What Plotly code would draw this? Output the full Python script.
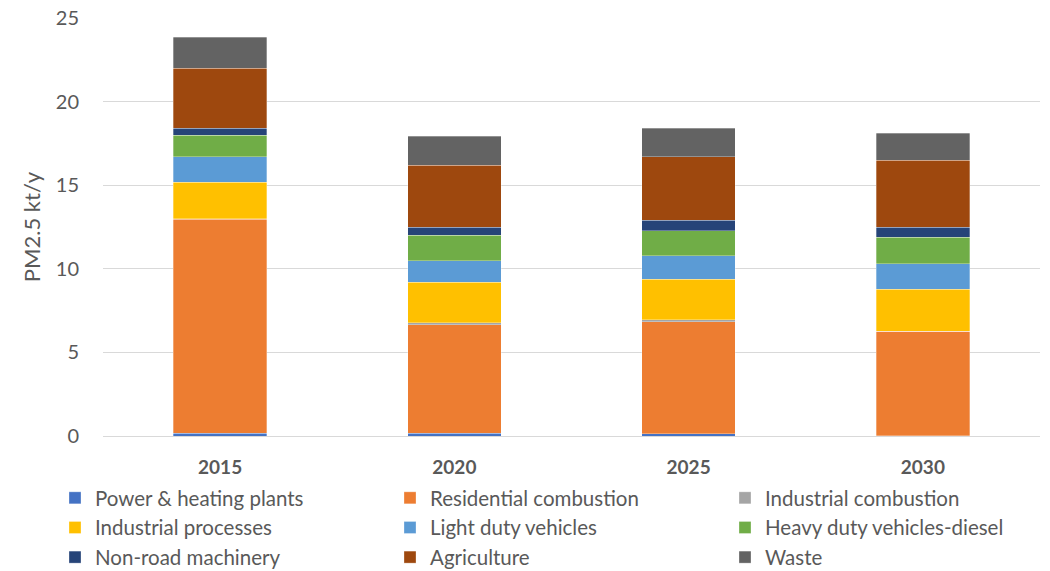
import plotly.graph_objects as go

years = ["2015", "2020", "2025", "2030"]
series_names = ["Power & heating plants", "Residential combustion", "Industrial combustion",
                "Industrial processes", "Light duty vehicles", "Heavy duty vehicles-diesel",
                "Non-road machinery", "Agriculture", "Waste"]
power = [0.16, 0.16, 0.14, 0.03]
residential = [12.80, 6.50, 6.70, 6.23]
ind_comb = [0.02, 0.10, 0.10, 0.02]
ind_proc = [2.21, 2.43, 2.43, 2.51]
ldv = [1.51, 1.30, 1.41, 1.50]
hdv = [1.30, 1.51, 1.50, 1.61]
nrm = [0.40, 0.48, 0.62, 0.60]
agri = [3.60, 3.72, 3.80, 4.00]
waste = [1.85, 1.74, 1.70, 1.60]
colors = ["#4472C4", "#ED7D31", "#A5A5A5", "#FFC000", "#5B9BD5", "#70AD47",
          "#264478", "#9E480E", "#636363"]

values = [power, residential, ind_comb, ind_proc, ldv, hdv, nrm, agri, waste]

FONT = "Lato"
GREY = "#595959"

W, H = 1050, 571
L, R, T, B = 103, 10, 18, 135
PW, PH = W - L - R, H - T - B

fig = go.Figure()
for name, vals, col in zip(series_names, values, colors):
    fig.add_trace(go.Bar(x=years, y=vals, name=name,
                         marker=dict(color=col, line=dict(width=0.6, color="rgba(255,255,255,0.5)"))))

fig.update_layout(
    barmode="stack",
    bargap=0.6,
    width=W, height=H,
    margin=dict(l=L, r=R, t=T, b=B, autoexpand=False),
    plot_bgcolor="white", paper_bgcolor="white",
    font=dict(family=FONT, color=GREY),
    xaxis=dict(tickfont=dict(size=19, family=FONT, color=GREY, weight="bold"),
               showgrid=False, showline=True, linecolor="#D9D9D9", linewidth=1,
               ticklabelstandoff=14),
    yaxis=dict(range=[0, 25], dtick=5, tickfont=dict(size=20, family=FONT, color=GREY),
               showgrid=True, gridcolor="#D9D9D9", gridwidth=1, zeroline=False,
               ticklabelstandoff=23,
               title=dict(text="PM2.5 kt/y", font=dict(size=22, family=FONT, color=GREY), standoff=9)),
    legend=dict(orientation="h",
                x=(55 - L) / PW, y=-(478 - (H - B)) / PH, xanchor="left", yanchor="top",
                entrywidth=290, entrywidthmode="pixels",
                font=dict(size=20.5, family=FONT, color=GREY),
                traceorder="normal", tracegroupgap=0),
)

fig.write_html("out.html", config={"displayModeBar": False},
               post_script="document.body.style.margin='0';document.body.style.overflow='hidden';")
